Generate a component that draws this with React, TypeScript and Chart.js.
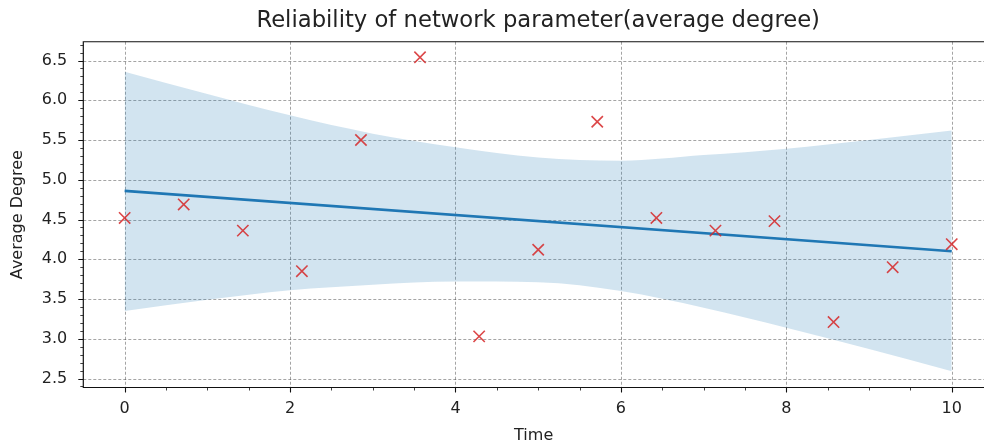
import React, { useEffect, useRef } from "react";
import { Chart, registerables } from "chart.js";

Chart.register(...registerables);

// ---- data ----
const timePoints = [0, 0.714, 1.429, 2.143, 2.857, 3.571, 4.286, 5.0, 5.714, 6.429, 7.143, 7.857, 8.571, 9.286, 10];
const avgDegree = [4.52, 4.69, 4.36, 3.85, 5.5, 6.54, 3.03, 4.12, 5.73, 4.52, 4.36, 4.48, 3.21, 3.9, 4.19];

const fitX = [0, 10];
const fitY = [4.86, 4.1];

const bandX = [0, 1, 2, 3, 4, 5, 6, 7, 8, 9, 10];
const bandUpper = [6.36, 6.08, 5.81, 5.58, 5.41, 5.28, 5.24, 5.31, 5.39, 5.5, 5.62];
const bandLower = [3.35, 3.49, 3.61, 3.68, 3.72, 3.71, 3.6, 3.39, 3.14, 2.87, 2.59];

const xTicks = [0, 2, 4, 6, 8, 10];
const xTickLabels = ["0", "2", "4", "6", "8", "10"];
const yTicks = [2.5, 3.0, 3.5, 4.0, 4.5, 5.0, 5.5, 6.0, 6.5];
const yTickLabels = ["2.5", "3.0", "3.5", "4.0", "4.5", "5.0", "5.5", "6.0", "6.5"];
const xMinorTicks = [0.5, 1, 1.5, 2.5, 3, 3.5, 4.5, 5, 5.5, 6.5, 7, 7.5, 8.5, 9, 9.5];
const yMinorTicks = [
  2.4, 2.6, 2.7, 2.8, 2.9, 3.1, 3.2, 3.3, 3.4, 3.6, 3.7, 3.8, 3.9, 4.1, 4.2, 4.3, 4.4,
  4.6, 4.7, 4.8, 4.9, 5.1, 5.2, 5.3, 5.4, 5.6, 5.7, 5.8, 5.9, 6.1, 6.2, 6.3, 6.4, 6.6, 6.7,
];

// visible axis range (the plot runs off the right edge of the figure)
const xMin = -0.5;
const xMax = 10.39;
const xFullMax = 10.5;
const yMin = 2.387;
const yMax = 6.736;

const titleText = "Reliability of network parameter(average degree)";
const xTitle = "Time";
const yTitle = "Average Degree";

const FONT = "'DejaVu Sans', 'Liberation Sans', sans-serif";
const TEXT = "#222";
const TITLE_SIZE = 22.7;

const decorPlugin = {
  id: "decor",
  beforeDatasetsDraw(chart: any) {
    const { ctx, chartArea: a, scales } = chart;
    const xs = scales.x;
    const ys = scales.y;
    ctx.save();
    ctx.strokeStyle = "rgba(0,0,0,0.45)";
    ctx.lineWidth = 0.8;
    ctx.setLineDash([3, 2]);
    ctx.beginPath();
    xTicks.forEach((v) => {
      const px = Math.round(xs.getPixelForValue(v)) + 0.5;
      ctx.moveTo(px, a.top);
      ctx.lineTo(px, a.bottom);
    });
    yTicks.forEach((v) => {
      const py = Math.round(ys.getPixelForValue(v)) + 0.5;
      ctx.moveTo(a.left, py);
      ctx.lineTo(a.right, py);
    });
    ctx.stroke();
    ctx.restore();
  },
  afterDatasetsDraw(chart: any) {
    const { ctx, chartArea: a, scales } = chart;
    const xs = scales.x;
    const ys = scales.y;
    ctx.save();
    ctx.setLineDash([]);
    ctx.strokeStyle = "#111";
    // major ticks
    ctx.lineWidth = 1.1;
    ctx.beginPath();
    xTicks.forEach((v) => {
      const px = Math.round(xs.getPixelForValue(v)) + 0.5;
      ctx.moveTo(px, a.bottom);
      ctx.lineTo(px, a.bottom + 5);
    });
    yTicks.forEach((v) => {
      const py = Math.round(ys.getPixelForValue(v)) + 0.5;
      ctx.moveTo(a.left, py);
      ctx.lineTo(a.left - 5, py);
    });
    ctx.stroke();
    // minor ticks
    ctx.lineWidth = 0.8;
    ctx.beginPath();
    xMinorTicks.forEach((v) => {
      const px = Math.round(xs.getPixelForValue(v)) + 0.5;
      ctx.moveTo(px, a.bottom);
      ctx.lineTo(px, a.bottom + 3);
    });
    yMinorTicks.forEach((v) => {
      const py = Math.round(ys.getPixelForValue(v)) + 0.5;
      ctx.moveTo(a.left, py);
      ctx.lineTo(a.left - 3, py);
    });
    ctx.stroke();
    // frame: left, top, bottom (right spine lies outside the figure)
    ctx.lineWidth = 1.2;
    ctx.beginPath();
    ctx.moveTo(a.right + 2, a.top);
    ctx.lineTo(a.left, a.top);
    ctx.lineTo(a.left, a.bottom);
    ctx.lineTo(a.right + 2, a.bottom);
    ctx.stroke();
    ctx.restore();
  },
};

const centerTitlePlugin = {
  id: "centerTitle",
  beforeDraw(chart: any) {
    // centre the title over the full (uncropped) axes box
    const t = chart.titleBlock;
    const a = chart.chartArea;
    if (!t) return;
    const xs = chart.scales.x;
    const fullRight = xs.getPixelForValue(xFullMax);
    const center = (a.left + fullRight) / 2;
    const ctx = chart.ctx;
    ctx.save();
    ctx.font = "normal " + TITLE_SIZE + "px " + FONT;
    const w = ctx.measureText(titleText).width;
    ctx.restore();
    t.left = center - w / 2;
    t.right = center + w / 2;
    t.width = w;
  },
};

export default function App() {
  const canvasRef = useRef<HTMLCanvasElement | null>(null);

  useEffect(() => {
    const canvas = canvasRef.current;
    if (!canvas) return;
    const chart = new Chart(canvas, {
      type: "line",
      data: {
        datasets: [
          {
            type: "scatter",
            label: "observations",
            data: timePoints.map((x, i) => ({ x, y: avgDegree[i] })),
            pointStyle: "crossRot",
            pointRadius: 8,
            pointBorderWidth: 1.6,
            borderColor: "rgba(214,39,40,0.85)",
            backgroundColor: "rgba(214,39,40,0.85)",
            clip: false,
            order: 0,
          } as any,
          {
            type: "line",
            label: "fit",
            data: fitX.map((x, i) => ({ x, y: fitY[i] })),
            borderColor: "#1f77b4",
            borderWidth: 2.6,
            pointRadius: 0,
            fill: false,
            order: 1,
          },
          {
            type: "line",
            label: "upper",
            data: bandX.map((x, i) => ({ x, y: bandUpper[i] })),
            borderWidth: 0,
            borderColor: "rgba(0,0,0,0)",
            backgroundColor: "rgba(31,119,180,0.2)",
            pointRadius: 0,
            cubicInterpolationMode: "monotone",
            fill: "+1",
            order: 2,
          },
          {
            type: "line",
            label: "lower",
            data: bandX.map((x, i) => ({ x, y: bandLower[i] })),
            borderWidth: 0,
            borderColor: "rgba(0,0,0,0)",
            pointRadius: 0,
            cubicInterpolationMode: "monotone",
            fill: false,
            order: 3,
          },
        ],
      },
      options: {
        animation: false,
        responsive: false,
        devicePixelRatio: 1,
        layout: { autoPadding: false, padding: { left: 0, right: 0, top: 0, bottom: 0 } },
        plugins: {
          legend: { display: false },
          tooltip: { enabled: false },
          title: {
            display: true,
            text: titleText,
            fullSize: true,
            align: "start",
            color: TEXT,
            font: { family: FONT, size: TITLE_SIZE, weight: "normal" },
            lineHeight: 1.2,
            padding: { top: 7.6, bottom: 6.9 },
          },
        },
        scales: {
          x: {
            type: "linear",
            min: xMin,
            max: xMax,
            afterBuildTicks: (s: any) => {
              s.ticks = xTicks.map((v) => ({ value: v }));
            },
            afterFit: (s: any) => {
              s.height = 58.5;
              s.paddingLeft = 0;
              s.paddingRight = 0;
            },
            ticks: {
              color: TEXT,
              font: { family: FONT, size: 16 },
              padding: 12,
              maxRotation: 0,
              autoSkip: false,
              callback: (v: any) => {
                const i = xTicks.indexOf(Number(v));
                return i >= 0 ? xTickLabels[i] : "";
              },
            },
            grid: { display: false, drawTicks: false },
            border: { display: false },
            title: {
              display: true,
              text: xTitle,
              color: TEXT,
              font: { family: FONT, size: 16 },
              padding: { top: 0, bottom: 1 },
            },
          },
          y: {
            type: "linear",
            min: yMin,
            max: yMax,
            afterBuildTicks: (s: any) => {
              s.ticks = yTicks.map((v) => ({ value: v }));
            },
            afterFit: (s: any) => {
              s.width = 83.3;
              s.paddingTop = 0;
              s.paddingBottom = 0;
            },
            ticks: {
              color: TEXT,
              font: { family: FONT, size: 16 },
              padding: 16,
              autoSkip: false,
              callback: (v: any) => {
                const i = yTicks.findIndex((t) => Math.abs(t - Number(v)) < 1e-6);
                return i >= 0 ? yTickLabels[i] : "";
              },
            },
            grid: { display: false, drawTicks: false },
            border: { display: false },
            title: {
              display: true,
              text: yTitle,
              color: TEXT,
              font: { family: FONT, size: 16 },
              padding: { top: 8, bottom: 0 },
            },
          },
        },
      },
      plugins: [decorPlugin, centerTitlePlugin],
    } as any);
    return () => chart.destroy();
  }, []);

  return (
    <div
      style={{
        position: "fixed",
        left: 0,
        top: 0,
        width: 984,
        height: 446,
        overflow: "hidden",
        background: "#fff",
      }}
    >
      <canvas ref={canvasRef} width={984} height={446} style={{ display: "block" }} />
    </div>
  );
}
